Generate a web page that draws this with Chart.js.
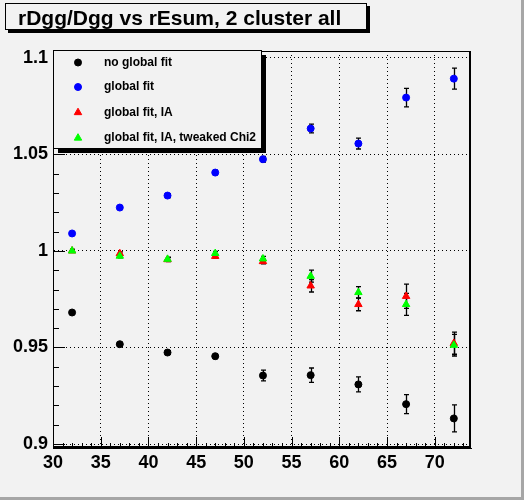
<!DOCTYPE html>
<html>
<head>
<meta charset="utf-8">
<script src="https://cdn.jsdelivr.net/npm/chart.js@4.4.1/dist/chart.umd.min.js"></script>
<style>
  html, body { margin: 0; padding: 0; background: #f2f2f2; }
  #wrap { width: 524px; height: 500px; }
</style>
</head>
<body>
<div id="wrap"><canvas id="c" width="524" height="500"></canvas></div>
<script>
// titel en legende
const titleText = 'rDgg/Dgg vs rEsum, 2 cluster all';
const seriesNames = ['no global fit', 'global fit', 'global fit, IA', 'global fit, IA, tweaked Chi2'];

// x waarden
const rEsum = [32, 37, 42, 47, 52, 57, 62, 67, 72];

// reeksen met fouten
const noGlobalFit    = [0.9681, 0.9517, 0.9474, 0.9455, 0.9355, 0.9357, 0.9309, 0.9207, 0.9133];
const noGlobalFitErr = [0.0010, 0.0010, 0.0010, 0.0012, 0.0028, 0.0037, 0.0039, 0.0049, 0.0070];
const globalFit      = [1.0090, 1.0224, 1.0286, 1.0405, 1.0474, 1.0633, 1.0555, 1.0793, 1.0891];
const globalFitErr   = [0.0008, 0.0009, 0.0010, 0.0012, 0.0015, 0.0023, 0.0028, 0.0048, 0.0054];
const globalFitIA    = [1.0000, 0.9986, 0.9955, 0.9972, 0.9945, 0.9819, 0.9723, 0.9765, 0.9522];
const globalFitIAErr = [0.0008, 0.0009, 0.0010, 0.0010, 0.0012, 0.0032, 0.0033, 0.0063, 0.0057];
const tweakedChi2    = [1.0000, 0.9973, 0.9957, 0.9987, 0.9959, 0.9869, 0.9785, 0.9723, 0.9512];
const tweakedChi2Err = [0.0008, 0.0009, 0.0010, 0.0010, 0.0012, 0.0031, 0.0030, 0.0057, 0.0056];

// as instellingen
const xRange = [30, 73.8];
const yRange = [0.898, 1.1034];
const xTicks = [30, 35, 40, 45, 50, 55, 60, 65, 70];
const yTicks = [0.9, 0.95, 1, 1.05, 1.1];

const FONT = '"Liberation Sans", Arial, Helvetica, sans-serif';

function punten(ys) {
    return rEsum.map(function (x, i) { return {x: x, y: ys[i]}; });
}

const errors = [noGlobalFitErr, globalFitErr, globalFitIAErr, tweakedChi2Err];

const rootPlugin = {
    id: 'rootPlugin',
    beforeDraw(chart) {
        const c = chart.ctx;
        c.save();
        c.fillStyle = '#f2f2f2';
        c.fillRect(0, 0, chart.width, chart.height);
        c.fillStyle = '#a6a6a6';
        c.fillRect(chart.width - 3, 0, 3, chart.height);
        c.fillRect(0, chart.height - 3, chart.width, 3);
        c.restore();
    },
    beforeDatasetsDraw(chart) {
        // foutbalken
        const c = chart.ctx;
        const xs = chart.scales.x, ys = chart.scales.y;
        c.save();
        c.strokeStyle = '#000';
        c.lineWidth = 1.3;
        chart.data.datasets.forEach(function (ds, i) {
            const err = errors[i];
            ds.data.forEach(function (p, j) {
                const px = Math.round(xs.getPixelForValue(p.x)) + 0.5;
                const top = ys.getPixelForValue(p.y + err[j]);
                const bot = ys.getPixelForValue(p.y - err[j]);
                c.beginPath();
                c.moveTo(px, top); c.lineTo(px, bot);
                c.moveTo(px - 2.5, top); c.lineTo(px + 2.5, top);
                c.moveTo(px - 2.5, bot); c.lineTo(px + 2.5, bot);
                c.stroke();
            });
        });
        c.restore();
    },
    afterDatasetsDraw(chart) {
        // kader en kleine streepjes
        const c = chart.ctx;
        const a = chart.chartArea;
        const xs = chart.scales.x, ys = chart.scales.y;
        c.save();
        c.strokeStyle = '#000';
        c.lineWidth = 1;
        c.beginPath();
        c.moveTo(a.left, a.top + 0.5); c.lineTo(a.right, a.top + 0.5);
        c.moveTo(a.left + 0.5, a.top); c.lineTo(a.left + 0.5, a.bottom);
        c.stroke();
        c.lineWidth = 2;
        c.beginPath();
        c.moveTo(a.right - 1, a.top); c.lineTo(a.right - 1, a.bottom);
        c.moveTo(a.left, a.bottom - 1); c.lineTo(a.right, a.bottom - 1);
        c.stroke();
        c.lineWidth = 1;
        c.beginPath();
        for (let v = 30; v <= 73; v++) {
            const px = Math.round(xs.getPixelForValue(v)) + 0.5;
            const len = (v % 5 === 0) ? 11 : 5;
            c.moveTo(px, a.bottom); c.lineTo(px, a.bottom - len);
        }
        for (let k = 90; k <= 110; k++) {
            const py = Math.round(ys.getPixelForValue(k / 100)) + 0.5;
            const len = (k % 5 === 0) ? 12 : 6;
            c.moveTo(a.left, py); c.lineTo(a.left + len, py);
        }
        c.stroke();
        c.restore();
    },
    afterDraw(chart) {
        const c = chart.ctx;
        c.save();
        // legende
        c.fillStyle = '#000';
        c.fillRect(262, 55, 4, 98);
        c.fillRect(58, 149, 208, 4);
        c.fillStyle = '#f2f2f2';
        c.fillRect(53, 50, 209, 99);
        c.strokeStyle = '#000';
        c.lineWidth = 1;
        c.strokeRect(53.5, 50.5, 208, 98);
        const rows = [62.5, 87, 112.5, 138];
        chart.data.datasets.forEach(function (ds, i) {
            c.fillStyle = ds.pointBackgroundColor;
            c.strokeStyle = ds.pointBorderColor;
            c.lineWidth = 1;
            Chart.helpers.drawPoint(c, {pointStyle: ds.pointStyle, radius: ds.pointRadius, borderWidth: 1, rotation: 0}, 78, rows[i]);
            c.fillStyle = '#000';
            c.font = 'bold 12px ' + FONT;
            c.textBaseline = 'middle';
            c.textAlign = 'left';
            c.fillText(ds.label, 104, rows[i]);
        });
        // titel
        c.fillStyle = '#000';
        c.fillRect(367, 6, 3, 27);
        c.fillRect(8, 30, 362, 3);
        c.fillStyle = '#f2f2f2';
        c.fillRect(5, 3, 362, 27);
        c.strokeStyle = '#000';
        c.lineWidth = 1;
        c.strokeRect(5.5, 3.5, 361, 26);
        c.fillStyle = '#000';
        c.font = 'bold 21px ' + FONT;
        c.textBaseline = 'alphabetic';
        c.textAlign = 'left';
        c.fillText(titleText, 18, 25);
        c.restore();
    }
};

const kleuren = ['#000000', '#0000ff', '#ff0000', '#00ff00'];
const vormen = ['circle', 'circle', 'triangle', 'triangle'];
const reeksen = [noGlobalFit, globalFit, globalFitIA, tweakedChi2];

const datasets = reeksen.map(function (r, i) {
    return {
        label: seriesNames[i],
        data: punten(r),
        pointStyle: vormen[i],
        pointRadius: vormen[i] === 'circle' ? 3.5 : 4.3,
        pointBorderWidth: 1,
        pointBackgroundColor: kleuren[i],
        pointBorderColor: kleuren[i],
        showLine: false,
        order: 3 - i
    };
});

const config = {
    type: 'scatter',
    data: {datasets: datasets},
    options: {
        responsive: false,
        animation: false,
        devicePixelRatio: 1,
        layout: {padding: {top: 51, right: 53, left: 0, bottom: 0}},
        plugins: {legend: {display: false}, title: {display: false}, tooltip: {enabled: false}},
        scales: {
            x: {
                type: 'linear',
                min: xRange[0], max: xRange[1],
                afterBuildTicks: function (s) { s.ticks = xTicks.map(function (v) { return {value: v}; }); },
                afterFit: function (s) { s.height = 52; },
                grid: {color: '#000', lineWidth: 1, drawTicks: false},
                border: {display: true, color: '#000', width: 1, dash: [1, 3]},
                ticks: {color: '#000', padding: 4, maxRotation: 0, font: {family: FONT, size: 18, weight: 'bold'}}
            },
            y: {
                type: 'linear',
                min: yRange[0], max: yRange[1],
                afterBuildTicks: function (s) { s.ticks = yTicks.map(function (v) { return {value: v}; }); },
                afterFit: function (s) { s.width = 53; },
                grid: {color: '#000', lineWidth: 1, drawTicks: false},
                border: {display: true, color: '#000', width: 1, dash: [1, 3]},
                ticks: {color: '#000', padding: 5, font: {family: FONT, size: 18, weight: 'bold'},
                    callback: function (v) { return String(Math.round(v * 100) / 100); }}
            }
        }
    },
    plugins: [rootPlugin]
};

const chart = new Chart(document.getElementById('c'), config);
</script>
</body>
</html>
